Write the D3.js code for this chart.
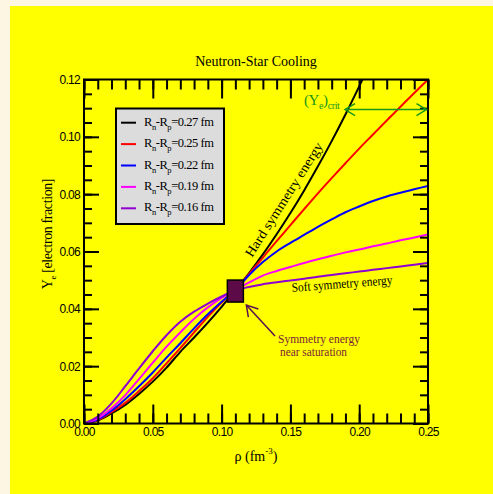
<!DOCTYPE html>
<html>
<head>
<meta charset="utf-8">
<script src="https://cdn.jsdelivr.net/npm/d3@7/dist/d3.min.js"></script>
<style>
  html, body { margin: 0; padding: 0; background: #fdf6e3; }
  svg { display: block; }
</style>
</head>
<body>
<svg id="chart" width="493" height="494"></svg>
<script>
// Density grid (fm^-3)
const rho = [0.00, 0.01, 0.02, 0.03, 0.04, 0.05, 0.06, 0.07, 0.08, 0.09, 0.10, 0.11, 0.12,
             0.13, 0.14, 0.15, 0.16, 0.17, 0.18, 0.19, 0.20, 0.21, 0.22, 0.23, 0.24, 0.25];

// Electron fraction for each neutron-skin thickness
const ye027 = [0, 0.0010, 0.0035, 0.0065, 0.0103, 0.0146, 0.0195, 0.0250, 0.0300, 0.0352, 0.0407, 0.0465, 0.0525,
               0.0590, 0.0660, 0.0734, 0.0813, 0.0897, 0.0985, 0.1078, 0.1176, 0.1278, null, null, null, null];
const ye025 = [0, 0.0012, 0.0040, 0.0072, 0.0113, 0.0158, 0.0210, 0.0263, 0.0318, 0.0372, 0.0422, 0.0465, 0.0522,
               0.0579, 0.0636, 0.0692, 0.0748, 0.0803, 0.0856, 0.0908, 0.0959, 0.1008, 0.1057, 0.1105, 0.1153, 0.1200];
const ye022 = [0, 0.0014, 0.0045, 0.0085, 0.0130, 0.0178, 0.0230, 0.0280, 0.0332, 0.0381, 0.0425, 0.0465, 0.0518,
               0.0563, 0.0600, 0.0630, 0.0658, 0.0686, 0.0712, 0.0737, 0.0757, 0.0776, 0.0792, 0.0805, 0.0817, 0.0829];
const ye019 = [0, 0.0018, 0.0053, 0.0099, 0.0155, 0.0212, 0.0268, 0.0318, 0.0365, 0.0405, 0.0438, 0.0465, 0.0492,
               0.0516, 0.0532, 0.0546, 0.0560, 0.0573, 0.0585, 0.0597, 0.0607, 0.0618, 0.0628, 0.0639, 0.0649, 0.0659];
const ye016 = [0, 0.0024, 0.0070, 0.0130, 0.0192, 0.0252, 0.0308, 0.0355, 0.0390, 0.0418, 0.0443, 0.0465, 0.0476,
               0.0486, 0.0493, 0.0499, 0.0505, 0.0512, 0.0518, 0.0524, 0.0530, 0.0536, 0.0542, 0.0548, 0.0554, 0.0560];

const skinLabels = ["0.27", "0.25", "0.22", "0.19", "0.16"];
const seriesColors = ["#000000", "#ff0000", "#0000ff", "#ff00ff", "#9000d0"];
const seriesValues = [ye027, ye025, ye022, ye019, ye016];

// Axis ticks
const xMajor = [0, 0.05, 0.10, 0.15, 0.20, 0.25];
const xMinor = d3.range(0, 26).map(i => i / 100);
const yMajor = [0, 0.02, 0.04, 0.06, 0.08, 0.10, 0.12];
const yMinor = d3.range(0, 25).map(i => i * 0.005);

// Saturation point and critical fraction
const saturation = { rho: 0.11, ye: 0.0462 };
const yeCrit = 0.1095;
const critFrom = 0.1897;

const svg = d3.select("#chart");
const W = 493, H = 494;
const m = { left: 84, right: 428, top: 79.5, bottom: 423.5 };

svg.append("rect").attr("x", 10).attr("y", 6).attr("width", W - 10).attr("height", H - 6)
  .attr("fill", "#ffff00");

const x = d3.scaleLinear().domain([0, 0.25]).range([m.left, m.right]);
const y = d3.scaleLinear().domain([0, 0.12]).range([m.bottom, m.top]);

const serif = "'Liberation Serif', 'Times New Roman', serif";
const sans = "'Liberation Sans', Arial, sans-serif";

svg.append("defs").append("clipPath").attr("id", "plotclip")
  .append("rect").attr("x", m.left).attr("y", m.top)
  .attr("width", m.right - m.left).attr("height", m.bottom - m.top);

// Title
svg.append("text").attr("x", 256).attr("y", 66).attr("text-anchor", "middle")
  .attr("font-family", serif).attr("font-size", 14).text("Neutron-Star Cooling");

// Curves
const line = d3.line()
  .defined(d => d[1] != null)
  .x(d => x(d[0])).y(d => y(d[1]))
  .curve(d3.curveCatmullRom.alpha(0.5));

const curves = svg.append("g").attr("clip-path", "url(#plotclip)");
seriesValues.forEach((vals, i) => {
  curves.append("path")
    .datum(rho.map((r, k) => [r, vals[k]]))
    .attr("fill", "none").attr("stroke", seriesColors[i]).attr("stroke-width", 2)
    .attr("d", line);
});

// Axes with inward ticks on all four sides
function styleAxis(g) {
  g.select(".domain").remove();
  g.selectAll("line").attr("stroke", "#000").attr("stroke-width", 2);
  g.selectAll("text").attr("font-family", sans).attr("font-size", 12)
    .attr("letter-spacing", "-0.7px").attr("fill", "#000");
}
const fmt = d3.format(".2f");

svg.append("g").attr("transform", `translate(0,${m.bottom})`)
  .call(d3.axisBottom(x).tickValues(xMinor).tickSize(-10).tickFormat(""))
  .call(styleAxis);
svg.append("g").attr("transform", `translate(0,${m.bottom})`)
  .call(d3.axisBottom(x).tickValues(xMajor).tickSize(-19).tickPadding(4).tickFormat(fmt))
  .call(styleAxis);
svg.append("g").attr("transform", `translate(0,${m.top})`)
  .call(d3.axisTop(x).tickValues(xMinor).tickSize(-10).tickFormat(""))
  .call(styleAxis);
svg.append("g").attr("transform", `translate(0,${m.top})`)
  .call(d3.axisTop(x).tickValues(xMajor).tickSize(-19).tickFormat(""))
  .call(styleAxis);

svg.append("g").attr("transform", `translate(${m.left},0)`)
  .call(d3.axisLeft(y).tickValues(yMinor).tickSize(-8).tickFormat(""))
  .call(styleAxis);
svg.append("g").attr("transform", `translate(${m.left},0)`)
  .call(d3.axisLeft(y).tickValues(yMajor).tickSize(-15).tickPadding(4).tickFormat(fmt))
  .call(styleAxis);
svg.append("g").attr("transform", `translate(${m.right},0)`)
  .call(d3.axisRight(y).tickValues(yMinor).tickSize(-8).tickFormat(""))
  .call(styleAxis);
svg.append("g").attr("transform", `translate(${m.right},0)`)
  .call(d3.axisRight(y).tickValues(yMajor).tickSize(-15).tickFormat(""))
  .call(styleAxis);

// Frame
svg.append("rect").attr("x", m.left).attr("y", m.top)
  .attr("width", m.right - m.left).attr("height", m.bottom - m.top)
  .attr("fill", "none").attr("stroke", "#000").attr("stroke-width", 2);

// Axis titles
const xt = svg.append("text").attr("x", 256).attr("y", 461).attr("text-anchor", "middle")
  .attr("font-family", serif).attr("font-size", 14);
xt.append("tspan").text("\u03c1 (fm");
xt.append("tspan").attr("font-size", 9).attr("dy", -7).text("-3");
xt.append("tspan").attr("dy", 7).text(")");

const yt = svg.append("text").attr("transform", "translate(52,234) rotate(-90)")
  .attr("text-anchor", "middle").attr("font-family", serif).attr("font-size", 14)
  .attr("letter-spacing", "-0.4px");
yt.append("tspan").text("Y");
yt.append("tspan").attr("font-size", 9).attr("dy", 4).text("e");
yt.append("tspan").attr("dy", -4).text(" [electron fraction]");

// Legend
const lg = svg.append("g");
lg.append("rect").attr("x", 116).attr("y", 108.5).attr("width", 108).attr("height", 115.5)
  .attr("fill", "#dcdcdc").attr("stroke", "#000").attr("stroke-width", 2);
skinLabels.forEach((lab, i) => {
  const yy = 122.7 + i * 21.4;
  lg.append("line").attr("x1", 121).attr("x2", 136).attr("y1", yy).attr("y2", yy)
    .attr("stroke", seriesColors[i]).attr("stroke-width", 2);
  const t = lg.append("text").attr("x", 144).attr("y", yy + 3)
    .attr("font-family", serif).attr("font-size", 12.5).attr("letter-spacing", "-0.45px");
  t.append("tspan").text("R");
  t.append("tspan").attr("font-size", 8.5).attr("dy", 4).text("n");
  t.append("tspan").attr("dy", -4).text("-R");
  t.append("tspan").attr("font-size", 8.5).attr("dy", 4).text("p");
  t.append("tspan").attr("dy", -4).text("=" + lab + " fm");
});

// Curve annotations
svg.append("text").attr("transform", "translate(252,258) rotate(-57.5)")
  .attr("font-family", serif).attr("font-size", 13.5)
  .attr("textLength", 133).attr("lengthAdjust", "spacingAndGlyphs")
  .text("Hard symmetry energy");
svg.append("text").attr("transform", "translate(292,292) rotate(-4.5)")
  .attr("font-family", serif).attr("font-size", 13)
  .attr("textLength", 101).attr("lengthAdjust", "spacingAndGlyphs")
  .text("Soft symmetry energy");

// Saturation marker
const sx = x(saturation.rho), sy = y(saturation.ye);
svg.append("rect").attr("x", sx - 8).attr("y", sy - 11).attr("width", 16).attr("height", 22)
  .attr("fill", "#5c0a48").attr("stroke", "#000").attr("stroke-width", 1.5);

const maroon = "#7a1e3c";
svg.append("line").attr("x1", 275).attr("y1", 336).attr("x2", sx + 11).attr("y2", sy + 14)
  .attr("stroke", "#5a1050").attr("stroke-width", 1.5);
svg.append("path")
  .attr("d", `M${sx + 11 + 2},${sy + 14 + 12} L${sx + 11},${sy + 14} L${sx + 11 + 12},${sy + 14 + 4}`)
  .attr("fill", "none").attr("stroke", "#5a1050").attr("stroke-width", 1.5);
svg.append("text").attr("x", 278).attr("y", 343).attr("font-family", serif).attr("font-size", 12)
  .attr("textLength", 82).attr("lengthAdjust", "spacingAndGlyphs")
  .attr("fill", maroon).text("Symmetry energy");
svg.append("text").attr("x", 280).attr("y", 356).attr("font-family", serif).attr("font-size", 12)
  .attr("textLength", 67).attr("lengthAdjust", "spacingAndGlyphs")
  .attr("fill", maroon).text("near saturation");

// Critical electron fraction
const green = "#1a961a";
const cy = y(yeCrit);
const cx1 = x(critFrom), cx2 = x(0.25) - 1.5;
svg.append("line").attr("x1", cx1).attr("x2", cx2).attr("y1", cy).attr("y2", cy)
  .attr("stroke", green).attr("stroke-width", 1.5);
svg.append("path").attr("d", `M${cx1 + 10},${cy - 6} L${cx1},${cy} L${cx1 + 10},${cy + 6}`)
  .attr("fill", "none").attr("stroke", green).attr("stroke-width", 1.5);
svg.append("path").attr("d", `M${cx2 - 10},${cy - 6} L${cx2},${cy} L${cx2 - 10},${cy + 6}`)
  .attr("fill", "none").attr("stroke", green).attr("stroke-width", 1.5);
const ct = svg.append("text").attr("x", 304).attr("y", 105).attr("font-family", serif)
  .attr("font-size", 15).attr("fill", green).attr("letter-spacing", "-0.4px");
ct.append("tspan").text("(Y");
ct.append("tspan").attr("font-size", 10).attr("dy", 4).text("e");
ct.append("tspan").attr("dy", -4).text(")");
ct.append("tspan").attr("font-size", 10).attr("dy", 4).text("crit");
</script>
</body>
</html>
